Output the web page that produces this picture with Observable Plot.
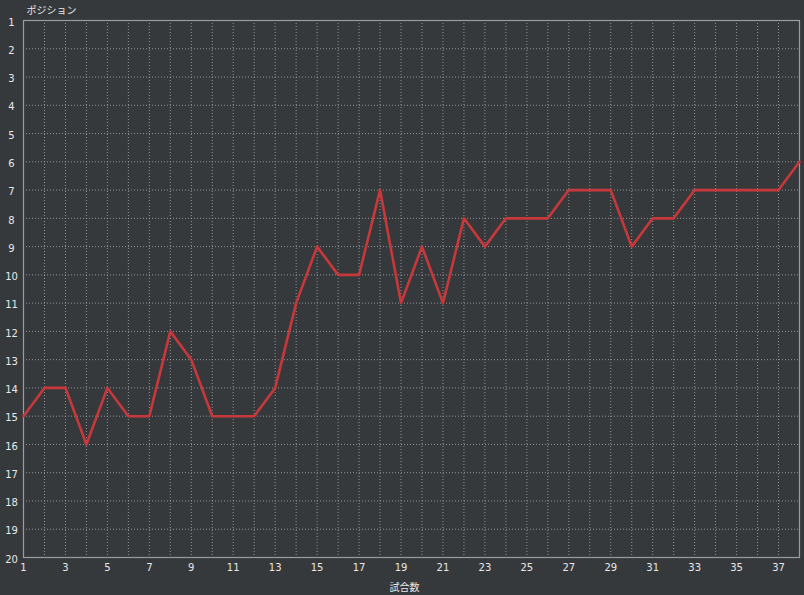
<!DOCTYPE html>
<html>
<head>
<meta charset="utf-8">
<script src="https://cdn.jsdelivr.net/npm/d3@7"></script>
<script src="https://cdn.jsdelivr.net/npm/@observablehq/plot@0.6"></script>
<style>
  html, body { margin: 0; padding: 0; background: #36393c; }
  #chart svg { display: block; }
</style>
</head>
<body>
<div id="chart"></div>
<script>
const matches = [1,2,3,4,5,6,7,8,9,10,11,12,13,14,15,16,17,18,19,20,21,22,23,24,25,26,27,28,29,30,31,32,33,34,35,36,37,38];
const positions = [15,14,14,16,14,15,15,12,13,15,15,15,14,11,9,10,10,7,11,9,11,8,9,8,8,8,7,7,7,9,8,8,7,7,7,7,7,6];
const yTicks = [1,2,3,4,5,6,7,8,9,10,11,12,13,14,15,16,17,18,19,20];
const xTicks = [1,3,5,7,9,11,13,15,17,19,21,23,25,27,29,31,33,35,37];
const gridXValues = matches;
const titleText = "ポジション";
const xLabelText = "試合数";

const data = matches.map((m, i) => ({match: m, pos: positions[i]}));

const chart = Plot.plot({
  width: 804,
  height: 595,
  marginLeft: 23,
  marginRight: 5,
  marginTop: 20,
  marginBottom: 38,
  style: {
    background: "#36393c",
    color: "#e8e8e8",
    fontFamily: "'DejaVu Sans', 'Noto Sans CJK JP', sans-serif",
    fontSize: "10px"
  },
  x: {domain: [1, 38]},
  y: {domain: [1, 20], reverse: true},
  marks: [
    Plot.gridX(gridXValues, {stroke: "#b0b2b4", strokeOpacity: 0.75, strokeDasharray: "1,2"}),
    Plot.gridY(yTicks, {stroke: "#b0b2b4", strokeOpacity: 0.75, strokeDasharray: "1,2"}),
    Plot.frame({stroke: "#9a9c9f", strokeWidth: 1.2}),
    Plot.axisY(yTicks, {tickSize: 0, tickPadding: 12, textAnchor: "middle", dy: 2, label: null, fill: "#e8e8e8"}),
    Plot.axisX(xTicks, {tickSize: 0, tickPadding: 6, label: null, fill: "#e8e8e8"}),
    Plot.line(data, {x: "match", y: "pos", stroke: "#c8383b", strokeWidth: 2.6}),
    Plot.text([titleText], {frameAnchor: "top-left", dx: 3, dy: -10, lineAnchor: "middle", textAnchor: "start", fill: "#e8e8e8", fontSize: 10}),
    Plot.text([xLabelText], {frameAnchor: "bottom", dx: -7, dy: 30, lineAnchor: "middle", fill: "#e8e8e8", fontSize: 10})
  ]
});

document.getElementById("chart").appendChild(chart);
</script>
</body>
</html>
